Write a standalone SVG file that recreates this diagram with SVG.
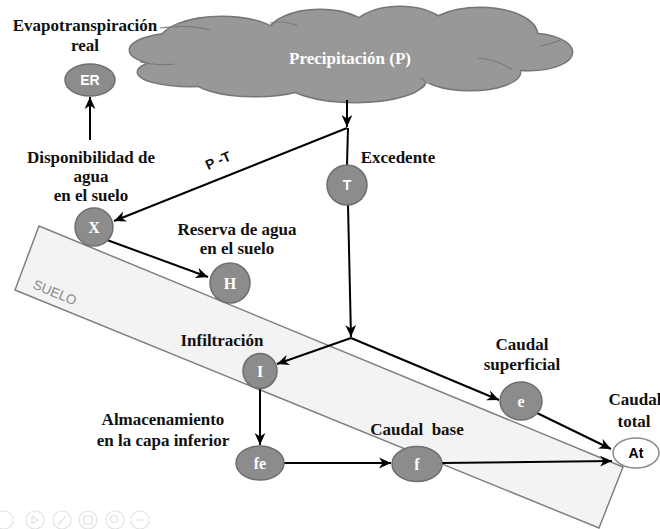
<svg xmlns="http://www.w3.org/2000/svg" width="660" height="529" viewBox="0 0 660 529">
<style>
.lbl{font-family:"Liberation Serif","Times New Roman",serif;font-weight:bold;font-size:17px;fill:#111;text-anchor:middle}
.nd{fill:#8c8c8c;stroke:#6e6e6e;stroke-width:1.5}
.nt{font-family:"Liberation Serif","Times New Roman",serif;font-weight:bold;font-size:16px;fill:#fff;text-anchor:middle}
.ns{font-family:"Liberation Sans",Arial,sans-serif;font-weight:bold;font-size:14px;fill:#fff;text-anchor:middle}
.ln{fill:none;stroke:#000;stroke-width:2}
.cs{fill:#989898;stroke:#767676;stroke-width:3}
.cf{fill:#989898;stroke:none}
.ic{fill:none;stroke:#e2e2e2;stroke-width:1.2}
</style>
<defs>
<marker id="ah" markerUnits="userSpaceOnUse" markerWidth="12" markerHeight="12" refX="10" refY="5" orient="auto" viewBox="0 0 10 10">
<path d="M0,0.5 L10,5 L0,9.5 L3,5 z" fill="#000"/>
</marker>
</defs>

<g id="suelo">
<polygon points="39,226 623,467 599,528 15,290" fill="#f3f3f3" stroke="#808080" stroke-width="1.5"/>
<text x="0" y="0" transform="translate(32,288) rotate(22.4)" font-family="Liberation Sans,Arial,sans-serif" font-size="13.5" fill="#8a8a8a">SUELO</text>
</g>

<g id="cloud">
<g class="cs">
<ellipse cx="185" cy="50" rx="55" ry="17"/>
<ellipse cx="190" cy="72" rx="52" ry="14"/>
<ellipse cx="222" cy="42" rx="62" ry="25"/>
<ellipse cx="320" cy="35" rx="52" ry="25"/>
<ellipse cx="400" cy="30" rx="47" ry="23"/>
<ellipse cx="480" cy="35" rx="57" ry="27"/>
<ellipse cx="530" cy="52" rx="42" ry="18"/>
<ellipse cx="470" cy="72" rx="50" ry="18"/>
<ellipse cx="355" cy="80" rx="70" ry="22"/>
<ellipse cx="255" cy="78" rx="62" ry="18"/>
</g>
<g class="cf">
<ellipse cx="185" cy="50" rx="55" ry="17"/>
<ellipse cx="190" cy="72" rx="52" ry="14"/>
<ellipse cx="222" cy="42" rx="62" ry="25"/>
<ellipse cx="320" cy="35" rx="52" ry="25"/>
<ellipse cx="400" cy="30" rx="47" ry="23"/>
<ellipse cx="480" cy="35" rx="57" ry="27"/>
<ellipse cx="530" cy="52" rx="42" ry="18"/>
<ellipse cx="470" cy="72" rx="50" ry="18"/>
<ellipse cx="355" cy="80" rx="70" ry="22"/>
<ellipse cx="255" cy="78" rx="62" ry="18"/>
<ellipse cx="350" cy="55" rx="175" ry="32"/>
</g>
<g fill="none" stroke="#7a7a7a" stroke-width="1.2">
<path d="M140,62 Q160,66 175,64"/>
<path d="M160,28 Q190,24 210,30"/>
<path d="M270,23 Q285,20 298,26"/>
<path d="M478,58 Q500,60 512,70"/>
<path d="M540,46 Q552,44 560,40"/>
<path d="M420,78 Q430,82 422,88"/>
</g>
<text x="350" y="64" font-family="Liberation Serif,Times New Roman,serif" font-weight="bold" font-size="17" fill="#fff" text-anchor="middle">Precipitación (P)</text>
</g>

<g id="connectors">
<line class="ln" x1="347" y1="100" x2="347" y2="127" marker-end="url(#ah)"/>
<line class="ln" x1="347" y1="128" x2="114" y2="221" marker-end="url(#ah)"/>
<line class="ln" x1="348" y1="128" x2="347" y2="165"/>
<line class="ln" x1="348" y1="205" x2="351" y2="337" marker-end="url(#ah)"/>
<line class="ln" x1="351" y1="338" x2="277" y2="364" marker-end="url(#ah)"/>
<line class="ln" x1="351" y1="338" x2="499" y2="400" marker-end="url(#ah)"/>
<line class="ln" x1="107" y1="240" x2="208" y2="277" marker-end="url(#ah)"/>
<line class="ln" x1="90" y1="140" x2="90" y2="97" marker-end="url(#ah)"/>
<line class="ln" x1="260" y1="388" x2="260" y2="445" marker-end="url(#ah)"/>
<line class="ln" x1="284" y1="463" x2="391" y2="463" marker-end="url(#ah)"/>
<line class="ln" x1="442" y1="463" x2="612" y2="461" marker-end="url(#ah)"/>
<line class="ln" x1="537" y1="413" x2="611" y2="449" marker-end="url(#ah)"/>
<text x="0" y="0" transform="translate(220,165) rotate(-24)" font-family="Liberation Sans,Arial,sans-serif" font-weight="bold" font-size="14" fill="#111" text-anchor="middle">P -T</text>
</g>

<g id="node-ER">
<ellipse class="nd" cx="90" cy="80" rx="25" ry="16"/>
<text class="ns" x="90" y="85">ER</text>
<text class="lbl" x="85" y="31">Evapotranspiración</text>
<text class="lbl" x="85" y="51">real</text>
</g>

<g id="node-X">
<circle class="nd" cx="94" cy="227" r="19"/>
<text class="nt" x="94" y="233">X</text>
<text class="lbl" x="91" y="163">Disponibilidad de</text>
<text class="lbl" x="91" y="182">agua</text>
<text class="lbl" x="91" y="201">en el suelo</text>
</g>

<g id="node-H">
<circle class="nd" cx="230" cy="283" r="20"/>
<text class="nt" x="230" y="289">H</text>
<text class="lbl" x="237" y="235">Reserva de agua</text>
<text class="lbl" x="237" y="254">en el suelo</text>
</g>

<g id="node-T">
<circle class="nd" cx="347" cy="185" r="20"/>
<text class="ns" x="347" y="190">T</text>
<text class="lbl" x="398" y="163">Excedente</text>
</g>

<g id="node-I">
<ellipse class="nd" cx="260" cy="371" rx="17" ry="17.5"/>
<text class="nt" x="260" y="377">I</text>
<text class="lbl" x="222" y="346">Infiltración</text>
</g>

<g id="node-fe">
<ellipse class="nd" cx="260" cy="463" rx="24" ry="17"/>
<text class="nt" x="260" y="469">fe</text>
<text class="lbl" x="163" y="425">Almacenamiento</text>
<text class="lbl" x="163" y="446">en la capa inferior</text>
</g>

<g id="node-f">
<ellipse class="nd" cx="417" cy="464" rx="25" ry="17.5"/>
<text class="nt" x="417" y="470">f</text>
<text class="lbl" x="417" y="435" xml:space="preserve">Caudal  base</text>
</g>

<g id="node-e">
<ellipse class="nd" cx="521" cy="401" rx="21" ry="19"/>
<text class="nt" x="521" y="407">e</text>
<text class="lbl" x="522" y="350">Caudal</text>
<text class="lbl" x="522" y="370">superficial</text>
</g>

<g id="node-At">
<ellipse cx="636" cy="453" rx="23" ry="15" fill="#fff" stroke="#8a8a8a" stroke-width="1.5"/>
<text x="636" y="458" font-family="Liberation Sans,Arial,sans-serif" font-weight="bold" font-size="14" fill="#000" text-anchor="middle">At</text>
<text class="lbl" x="635" y="405">Caudal</text>
<text class="lbl" x="634" y="427">total</text>
</g>

<g id="toolbar">
<circle class="ic" cx="4" cy="520" r="9"/>
<circle class="ic" cx="35" cy="520" r="9"/>
<path class="ic" d="M32,516 L38,520 L32,524 z"/>
<circle class="ic" cx="62" cy="520" r="9"/>
<path class="ic" d="M58,525 L66,516"/>
<circle class="ic" cx="88" cy="520" r="9"/>
<rect class="ic" x="84" y="516" width="8" height="8"/>
<circle class="ic" cx="115" cy="520" r="9"/>
<circle class="ic" cx="114" cy="519" r="3.5"/>
<circle class="ic" cx="140" cy="520" r="9"/>
<path class="ic" d="M136,520 h8"/>
</g>
</svg>
